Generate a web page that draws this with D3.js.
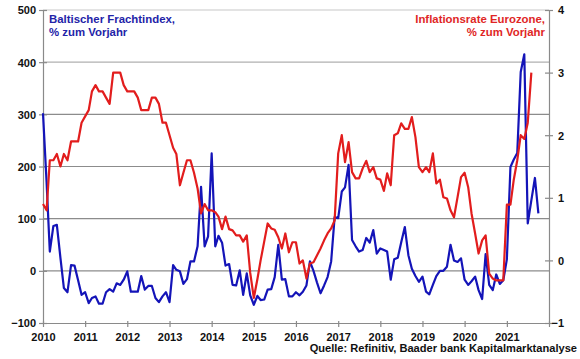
<!DOCTYPE html>
<html><head><meta charset="utf-8">
<script src="https://cdn.jsdelivr.net/npm/d3@7"></script>
<style>
html,body{margin:0;padding:0;background:#fff;}
svg{display:block;font-family:"Liberation Sans",Arial,sans-serif;font-weight:bold;}
</style></head><body>
<svg id="chart" width="580" height="359"></svg>
<script>
// ---------- data (monthly, starting Jan 2010) ----------
const startYear = 2010;
const yearTicks = [2010,2011,2012,2013,2014,2015,2016,2017,2018,2019,2020,2021];
const leftTicks = [-100,0,100,200,300,400,500];
const rightTicks = [-1,0,1,2,3,4];

// Baltischer Frachtindex, % zum Vorjahr (left axis)
const balticIndex = [
  302,170,37,86,88,25,-33,-41,11,10,-18,-46,
  -41,-62,-52,-49,-63,-63,-41,-35,-40,-24,-27,-17,
  -1,-40,-40,-40,-10,-36,-29,-29,-52,-60,-49,-41,
  -60,11,2,-1,-25,-16,18,18,47,161,47,66,
  225,47,67,54,10,13,-27,-28,1,-46,-5,-47,
  -65,-48,-56,-55,-36,-35,-12,50,-17,-16,-49,-49,
  -41,-47,-40,-28,18,0,-22,-43,-28,-12,18,103,
  101,152,160,203,59,47,37,40,63,54,78,33,
  43,40,37,-17,22,25,55,84,30,4,-10,-21,
  -11,-40,-45,-27,-10,0,0,8,50,20,17,24,
  -17,-27,-20,-11,-37,-54,32,-27,-37,-7,-25,-18,
  22,199,213,226,381,415,91,135,178,110
];

// Inflationsrate Eurozone, % zum Vorjahr (right axis)
const inflation = [
  0.9,0.8,1.6,1.6,1.7,1.5,1.7,1.6,1.9,1.9,1.9,2.2,
  2.3,2.4,2.7,2.8,2.7,2.7,2.6,2.5,3.0,3.0,3.0,2.8,
  2.7,2.7,2.7,2.6,2.4,2.4,2.4,2.6,2.6,2.5,2.2,2.2,
  2.0,1.8,1.7,1.2,1.4,1.6,1.6,1.4,1.15,0.75,0.9,0.8,
  0.8,0.77,0.7,0.5,0.7,0.5,0.48,0.4,0.4,0.3,0.4,-0.2,
  -0.6,-0.3,0.0,0.3,0.59,0.51,0.49,0.37,0.19,0.43,0.13,0.29,
  0.29,-0.05,0.0,-0.29,-0.05,-0.03,0.08,0.19,0.32,0.43,0.51,0.64,
  1.71,2.0,1.57,1.89,1.41,1.31,1.31,1.47,1.59,1.41,1.49,1.31,
  1.29,1.11,1.39,1.2,2.0,2.03,2.19,2.1,2.1,2.29,1.97,1.49,
  1.41,1.49,1.41,1.71,1.23,1.29,1.01,0.99,0.8,0.69,1.01,1.33,
  1.4,1.17,0.75,0.43,0.11,0.32,0.4,-0.21,-0.29,-0.32,-0.32,-0.32,
  0.89,0.89,1.28,1.6,2.0,1.94,2.2,3.0
];

const balticLabel = ["Baltischer Frachtindex,", "% zum Vorjahr"];
const inflationLabel = ["Inflationsrate Eurozone,", "% zum Vorjahr"];
const sourceText = "Quelle: Refinitiv, Baader bank Kapitalmarktanalyse";

// ---------- drawing ----------
const svg = d3.select("#chart");
const month = i => new Date(startYear, i, 1);
const x = d3.scaleTime().domain([new Date(2010,0,1), new Date(2022,0,1)]).range([43,549]);
const yL = d3.scaleLinear().domain([-100,500]).range([323,10]);
const yR = d3.scaleLinear().domain([-1,4]).range([323,10]);
const axisGray = "#8a8a8a";

// gridlines
svg.append("g").selectAll("line")
  .data(leftTicks.filter(v => v > -100))
  .join("line")
  .attr("x1", x.range()[0]).attr("x2", x.range()[1])
  .attr("y1", d => yL(d)).attr("y2", d => yL(d))
  .attr("stroke", d => d === 500 ? "#c8c8c8" : (d === 400 ? "#b0b0b0" : "#8c8c8c"))
  .attr("stroke-width", 1.2);

function styleAxis(g) {
  g.select(".domain").attr("stroke", axisGray).attr("stroke-width", 1.2);
  g.selectAll(".tick line").attr("stroke", axisGray).attr("stroke-width", 1.2);
  g.selectAll("text").attr("fill", "#111").attr("font-size", "11px")
    .attr("font-weight", "bold").attr("font-family", '"Liberation Sans",Arial,sans-serif');
}

// left axis
const gl = svg.append("g").attr("transform", "translate(43,0)")
  .call(d3.axisLeft(yL).tickValues(leftTicks).tickSize(4).tickSizeOuter(0).tickFormat(d3.format("d")));
gl.selectAll(".tick line").attr("x1", -4).attr("x2", 4);
gl.selectAll(".tick text").attr("x", -7).attr("dy", "0.35em");
styleAxis(gl);

// right axis
const gr = svg.append("g").attr("transform", "translate(549,0)")
  .call(d3.axisRight(yR).tickValues(rightTicks).tickSize(4).tickSizeOuter(0).tickFormat(d3.format("d")));
gr.selectAll(".tick line").attr("x1", -4).attr("x2", 4);
gr.selectAll(".tick text").attr("x", 15).attr("text-anchor", "end").attr("dy", "0.35em");
styleAxis(gr);

// bottom axis
const gb = svg.append("g").attr("transform", "translate(0,323)")
  .call(d3.axisBottom(x).tickValues(yearTicks.map(y => new Date(y,0,1)).concat([new Date(2022,0,1)]))
    .tickSizeOuter(0).tickFormat(d => d.getFullYear() <= 2021 ? d.getFullYear() : ""));
gb.selectAll(".tick line").attr("y1", -2).attr("y2", 4);
gb.selectAll(".tick text").attr("y", 18).attr("dy", "0");
styleAxis(gb);

// lines
const lineL = d3.line().x((d,i) => x(month(i))).y(d => yL(d));
const lineR = d3.line().x((d,i) => x(month(i))).y(d => yR(d));

svg.append("path").datum(balticIndex)
  .attr("d", lineL).attr("fill", "none")
  .attr("stroke", "#1414b8").attr("stroke-width", 2.2).attr("stroke-linejoin", "round");

svg.append("path").datum(inflation)
  .attr("d", lineR).attr("fill", "none")
  .attr("stroke", "#e21d1d").attr("stroke-width", 2.2).attr("stroke-linejoin", "round");

// labels
const lblBlue = svg.append("g").attr("fill", "#2323a8").attr("font-size", "11.4px");
lblBlue.append("text").attr("x", 49).attr("y", 23).text(balticLabel[0]);
lblBlue.append("text").attr("x", 49).attr("y", 36).text(balticLabel[1]);

const lblRed = svg.append("g").attr("fill", "#e02626").attr("font-size", "11.4px").attr("text-anchor", "end");
lblRed.append("text").attr("x", 545).attr("y", 23).text(inflationLabel[0]);
lblRed.append("text").attr("x", 545).attr("y", 36).text(inflationLabel[1]);

svg.append("text").attr("x", 577).attr("y", 352).attr("text-anchor", "end")
  .attr("font-size", "11.1px").attr("fill", "#111").text(sourceText);
</script>
</body></html>
